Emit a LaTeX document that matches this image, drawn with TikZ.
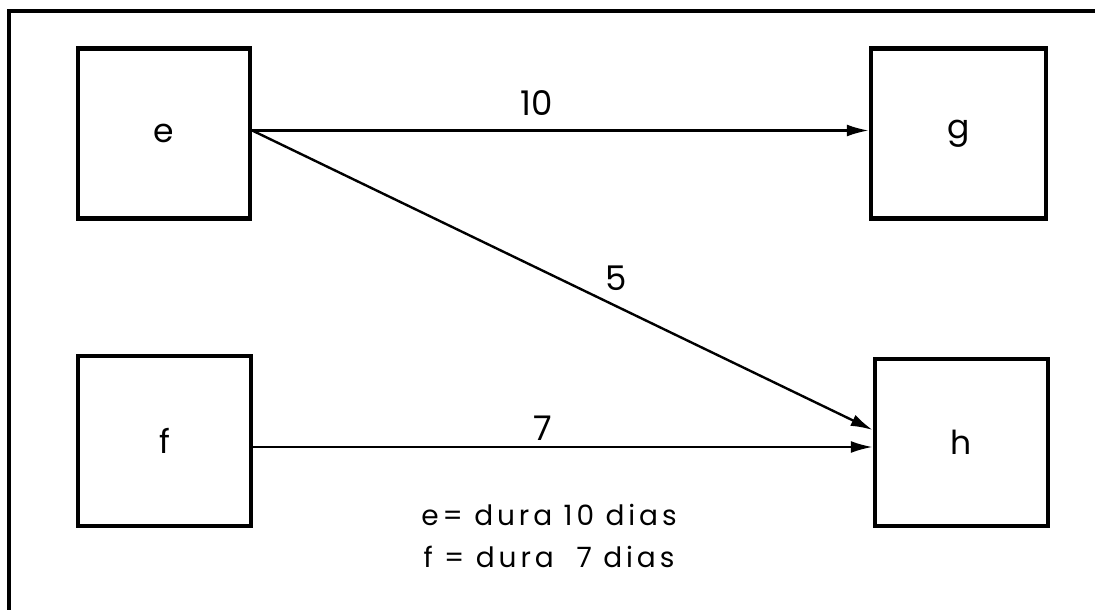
\documentclass[tikz,border=0pt]{standalone}
\usepackage{fontspec}
\setmainfont{Poppins}
\usetikzlibrary{arrows.meta,calc}
\tikzset{
  box/.style={draw, line width=4.5pt, minimum width=172pt, minimum height=170pt, inner sep=0pt, font=\fontsize{33}{36}\selectfont},
  conn/.style={line width=2.4pt, -{Latex[length=22pt,width=12pt]}},
  lbl/.style={font=\fontsize{34}{38}\selectfont, inner sep=0pt},
  legendtext/.style={align=center, inner sep=0pt, font=\fontsize{28}{42}\selectfont\addfontfeature{LetterSpace=14}},
  frame/.style={line width=4pt, line join=miter}
}
\begin{document}
\begin{tikzpicture}[x=1pt,y=-1pt]
\useasboundingbox (0,0) rectangle (1095,610);
\draw[frame] (9,610) -- (9,11) -- (1095,11);
\node[box] (e) at (164,133.5) {e};
\node[box, minimum width=175pt] (g) at (958.5,133.5) {g};
\node[box, minimum width=173pt] (f) at (164.5,441) {f};
\node[box, minimum width=173pt, minimum height=167pt] (h) at (961.5,442.5) {h};
\draw[conn] ($(e.east)+(0,-3)$) -- node[lbl, pos=0.462, yshift=27pt] (l10) {10} ($(g.west)+(0,-3)$);
\draw[conn] ($(e.east)+(0,-3)$) -- node[lbl, pos=0.587, yshift=28pt] (l5) {5} ($(h.west)+(0,-12.5)$);
\draw[conn] ($(f.east)+(0,6)$) -- node[lbl, pos=0.468, yshift=19pt] (l7) {7} ($(h.west)+(0,4.5)$);
\node[legendtext] (legend) at (549,536) {e= dura 10 dias\\ f = dura\ \ 7 dias};
\end{tikzpicture}
\end{document}
